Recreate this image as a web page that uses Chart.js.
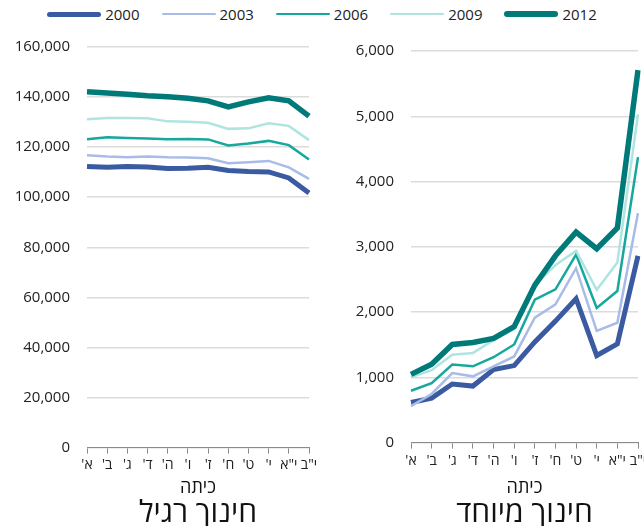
<!DOCTYPE html>
<html>
<head>
<meta charset="utf-8">
<script src="https://cdn.jsdelivr.net/npm/chart.js@4.4.1/dist/chart.umd.min.js"></script>
<style>
  body { margin: 0; background: #fff; }
  #wrap { position: relative; width: 644px; height: 526px; overflow: hidden; font-family: 'Open Sans', sans-serif; }
  #legend { position: absolute; left: 0; top: 0; width: 644px; height: 28px;
            display: flex; justify-content: center; align-items: center; padding-left: 0; box-sizing: border-box; }
  .item { display: flex; align-items: center; margin: 0 11px; font-size: 15px; color: #222; }
  .swatch { width: 54px; border-radius: 3px; margin-right: 4px; }
  canvas { position: absolute; top: 28px; }
</style>
</head>
<body>
<div id="wrap">
  <div id="legend"></div>
  <canvas id="regular" dir="rtl" width="322" height="502" style="left:0"></canvas>
  <canvas id="special" dir="rtl" width="322" height="502" style="left:322px"></canvas>
</div>
<script>
// ---- data ----
const grades = ["א'", "ב'", "ג'", "ד'", "ה'", "ו'", "ז'", "ח'", "ט'", "י'", 'י"א', 'י"ב'];
const years = ['2000', '2003', '2006', '2009', '2012'];

// חינוך רגיל
const regular2000 = [112300, 112000, 112300, 112100, 111500, 111600, 112000, 110700, 110300, 110100, 107700, 101700];
const regular2003 = [116800, 116300, 116000, 116300, 116000, 115900, 115600, 113600, 114000, 114500, 111900, 107300];
const regular2006 = [123200, 124000, 123700, 123500, 123200, 123300, 123100, 120700, 121500, 122500, 120800, 115100];
const regular2009 = [131100, 131600, 131600, 131500, 130300, 130100, 129700, 127300, 127500, 129500, 128500, 122800];
const regular2012 = [142100, 141600, 141100, 140500, 140100, 139500, 138500, 136100, 138100, 139700, 138500, 132400];

// חינוך מיוחד
const special2000 = [615, 682, 897, 866, 1118, 1180, 1543, 1862, 2205, 1334, 1512, 2862];
const special2003 = [560, 745, 1066, 1015, 1169, 1320, 1913, 2118, 2672, 1713, 1836, 3518];
const special2006 = [795, 912, 1195, 1169, 1308, 1503, 2190, 2349, 2882, 2062, 2323, 4374];
const special2009 = [1000, 1110, 1345, 1374, 1570, 1740, 2410, 2720, 2938, 2340, 2759, 5031];
const special2012 = [1045, 1200, 1503, 1535, 1595, 1777, 2413, 2862, 3225, 2970, 3290, 5708];

const regularTicks = { max: 160000, step: 20000 };
const specialTicks = { max: 6000, step: 1000 };

// ---- style ----
const colors = ['#3a5ba2', '#a8bce7', '#16a79d', '#b0e4e0', '#007a79'];
const widths = [5, 2.5, 2.5, 2.5, 5.5];
const FONT = "'Open Sans', sans-serif";

Chart.defaults.font.family = FONT;
Chart.defaults.color = '#222';

// legend (html)
const legendEl = document.getElementById('legend');
years.forEach((y, i) => {
  const item = document.createElement('div');
  item.className = 'item';
  const sw = document.createElement('span');
  sw.className = 'swatch';
  sw.style.height = widths[i] + 'px';
  sw.style.background = colors[i];
  const txt = document.createElement('span');
  txt.textContent = y;
  item.appendChild(sw);
  item.appendChild(txt);
  legendEl.appendChild(item);
});

function makeChart(id, series, ticksCfg, title, cfg) {
  const ctx = document.getElementById(id).getContext('2d');
  return new Chart(ctx, {
    type: 'line',
    data: {
      labels: grades,
      datasets: series.map((s, i) => ({
        label: years[i],
        data: s,
        borderColor: colors[i],
        backgroundColor: colors[i],
        borderWidth: widths[i],
        pointRadius: 0,
        tension: 0,
        borderJoinStyle: 'miter',
        order: series.length - i
      }))
    },
    options: {
      responsive: false,
      animation: false,
      layout: { padding: { top: cfg.top, right: cfg.right, left: 0, bottom: 0 } },
      plugins: {
        legend: { display: false },
        tooltip: { enabled: false },
        title: {
          display: true,
          position: 'bottom',
          fullSize: false,
          text: title,
          color: '#111',
          font: { size: 30, weight: 'normal', family: FONT, lineHeight: 1.12 },
          padding: { top: 0, bottom: 0 }
        }
      },
      scales: {
        x: {
          offset: false,
          grid: { display: true, drawOnChartArea: false, drawTicks: true, tickLength: 6, color: '#8a8a8a' },
          border: { display: true, color: '#8a8a8a', width: 1 },
          ticks: { autoSkip: false, maxRotation: 0, padding: cfg.xPad, color: '#222', font: { size: 14 } },
          title: { display: true, text: 'כיתה', color: '#111', font: { size: 18, lineHeight: 1 }, padding: { top: cfg.tPad, bottom: 0 } },
          afterFit: function(scale) { scale.paddingLeft = 0; scale.paddingRight = 0; }
        },
        y: {
          min: 0,
          max: ticksCfg.max,
          grid: { color: '#dcdcdc', lineWidth: 1.5, drawTicks: false },
          border: { display: false },
          ticks: {
            stepSize: ticksCfg.step,
            padding: 17,
            color: '#222',
            font: { size: 15 },
            callback: function(v) { return v.toLocaleString('en-US'); }
          },
          afterFit: function(scale) { scale.width = cfg.yWidth; scale.paddingTop = 0; scale.paddingBottom = 0; }
        }
      }
    }
  });
}

makeChart('regular',
  [regular2000, regular2003, regular2006, regular2009, regular2012],
  regularTicks, 'חינוך רגיל',
  { top: 19, right: 13, yWidth: 87, xPad: 3, tPad: 2 });

makeChart('special',
  [special2000, special2003, special2006, special2009, special2012],
  specialTicks, 'חינוך מיוחד',
  { top: 23, right: 6, yWidth: 89, xPad: 4, tPad: 5 });
</script>
</body>
</html>
